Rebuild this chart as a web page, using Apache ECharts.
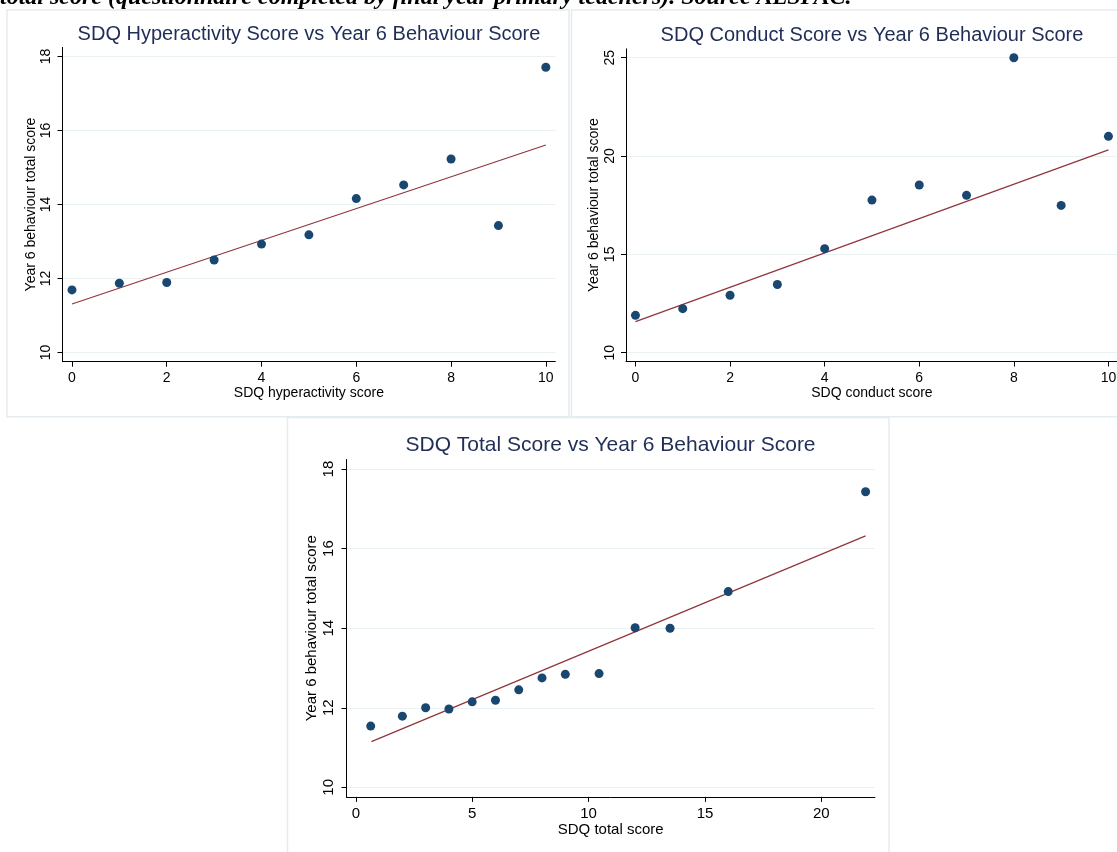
<!DOCTYPE html>
<html>
<head>
<meta charset="utf-8">
<script src="https://cdn.jsdelivr.net/npm/echarts@6/dist/echarts.min.js"></script>
<style>
  html, body { margin: 0; padding: 0; background: #ffffff; }
  #chart { width: 1117px; height: 852px; }
</style>
</head>
<body>
<div id="chart"></div>
<script>
// SDQ hyperactivity score vs mean Year 6 behaviour score
const hyperScore = [0, 1, 2, 3, 4, 5, 6, 7, 8, 9, 10];
const hyperBehaviour = [11.69, 11.87, 11.89, 12.50, 12.93, 13.18, 14.16, 14.53, 15.23, 13.43, 17.71];
const hyperFitX = [0, 10];
const hyperFitY = [11.31, 15.61];

// SDQ conduct score vs mean Year 6 behaviour score
const conductScore = [0, 1, 2, 3, 4, 5, 6, 7, 8, 9, 10];
const conductBehaviour = [11.90, 12.24, 12.92, 13.47, 15.29, 17.76, 18.53, 18.00, 25.00, 17.49, 21.00];
const conductFitX = [0, 10];
const conductFitY = [11.58, 20.31];

// SDQ total score vs mean Year 6 behaviour score
const totalScore = [0.64, 2, 3, 4, 5, 6, 7, 8, 9, 10.45, 12, 13.5, 16, 21.9];
const totalBehaviour = [11.54, 11.79, 12.00, 11.97, 12.15, 12.19, 12.45, 12.75, 12.84, 12.86, 14.01, 14.00, 14.92, 17.43];
const totalFitX = [0.67, 21.9];
const totalFitY = [11.15, 16.32];

// Tick labels
const hyperXTicks = [0, 2, 4, 6, 8, 10];
const hyperYTicks = [10, 12, 14, 16, 18];
const conductXTicks = [0, 2, 4, 6, 8, 10];
const conductYTicks = [10, 15, 20, 25];
const totalXTicks = [0, 5, 10, 15, 20];
const totalYTicks = [10, 12, 14, 16, 18];

// Titles and axis names
const panelTitles = [
  'SDQ Hyperactivity Score vs Year 6 Behaviour Score',
  'SDQ Conduct Score vs Year 6 Behaviour Score',
  'SDQ Total Score vs Year 6 Behaviour Score'
];
const xNames = ['SDQ hyperactivity score', 'SDQ conduct score', 'SDQ total score'];
const yName = 'Year 6 behaviour total score';
const caption = 'total score (questionnaire completed by final year primary teachers). Source ALSPAC.';

const FONT = '"Liberation Sans", Arial, Helvetica, sans-serif';
const MARKER = '#1a476f';
const FIT = '#90353b';
const GRIDLINE = '#eaf1f3';
const BORDER = '#e4ecef';
const TITLE = '#1f2d57';

const zip = (xs, ys) => xs.map((x, i) => [x, ys[i]]);

// Layout of each panel: plot region and axis ranges
const panels = [
  { grid: { left: 62.5, top: 47.3, width: 492.8, height: 314.4 },
    x: [-0.2, 10.2], y: [9.75, 18.25], xTicks: hyperXTicks, yTicks: hyperYTicks,
    font: 14, labelMargin: 9.5, yLabelMargin: 9, xNameGap: 23.5, yNameGap: 24.5 },
  { grid: { left: 626, top: 48.85, width: 491.9, height: 312.7 },
    x: [-0.2, 10.2], y: [9.55, 25.45], xTicks: conductXTicks, yTicks: conductYTicks,
    font: 14, labelMargin: 9.5, yLabelMargin: 9, xNameGap: 23.5, yNameGap: 24.5 },
  { grid: { left: 346.5, top: 459.5, width: 528.4, height: 337.4 },
    x: [-0.4, 22.3], y: [9.76, 18.24], xTicks: totalXTicks, yTicks: totalYTicks,
    font: 15, labelMargin: 9.8, yLabelMargin: 10.4, xNameGap: 25.8, yNameGap: 26.8 }
];

const grids = panels.map(p => Object.assign({ containLabel: false, outerBoundsMode: 'none' }, p.grid));

const axisLineStyle = { show: true, onZero: false, lineStyle: { color: '#000000', width: 1 } };
const axisTickStyle = (vals) => ({ show: true, inside: false, length: 5, customValues: vals,
  lineStyle: { color: '#000000', width: 1 } });

const xAxes = panels.map((p, i) => ({
  type: 'value', gridIndex: i, min: p.x[0], max: p.x[1],
  name: xNames[i], nameLocation: 'middle', nameGap: p.xNameGap,
  nameTextStyle: { fontFamily: FONT, fontSize: p.font, color: '#000000' },
  axisLine: axisLineStyle,
  axisTick: axisTickStyle(p.xTicks),
  axisLabel: { customValues: p.xTicks, margin: p.labelMargin, fontFamily: FONT,
    fontSize: p.font, color: '#000000' },
  splitLine: { show: false }
}));

const yAxes = panels.map((p, i) => ({
  type: 'value', gridIndex: i, min: p.y[0], max: p.y[1],
  name: yName, nameLocation: 'middle', nameGap: p.yNameGap, nameRotate: 90,
  nameTextStyle: { fontFamily: FONT, fontSize: p.font, color: '#000000' },
  axisLine: axisLineStyle,
  axisTick: axisTickStyle(p.yTicks),
  axisLabel: { customValues: p.yTicks, rotate: 90, margin: p.yLabelMargin, fontFamily: FONT,
    fontSize: p.font, color: '#000000' },
  splitLine: { show: true, lineStyle: { color: GRIDLINE, width: 1.2 } }
}));

const scatterSeries = (i, xs, ys) => ({
  type: 'scatter', xAxisIndex: i, yAxisIndex: i, data: zip(xs, ys),
  symbol: 'circle', symbolSize: 9, itemStyle: { color: MARKER, opacity: 1 },
  emphasis: { disabled: true }, z: 3
});
const fitSeries = (i, xs, ys) => ({
  type: 'line', xAxisIndex: i, yAxisIndex: i, data: zip(xs, ys),
  showSymbol: false, symbol: 'none', lineStyle: { color: FIT, width: 1.2 },
  emphasis: { disabled: true }, z: 2
});

const series = [
  fitSeries(0, hyperFitX, hyperFitY), scatterSeries(0, hyperScore, hyperBehaviour),
  fitSeries(1, conductFitX, conductFitY), scatterSeries(1, conductScore, conductBehaviour),
  fitSeries(2, totalFitX, totalFitY), scatterSeries(2, totalScore, totalBehaviour)
];

// Panel frames, panel titles and the clipped caption line above
const frames = [
  { x: 7, y: 10, width: 562, height: 406.7 },
  { x: 571.5, y: 10, width: 560, height: 406.7 },
  { x: 287.5, y: 417.5, width: 601.5, height: 460 }
].map(s => ({ type: 'rect', shape: s, silent: true, z: -10,
  style: { fill: '#ffffff', stroke: BORDER, lineWidth: 1.5 } }));

const titlePos = [
  { x: 309, y: 34, size: 20 },
  { x: 872, y: 35, size: 20 },
  { x: 610.5, y: 445, size: 21 }
];
const titles = titlePos.map((t, i) => ({
  type: 'text', x: t.x, y: t.y, silent: true, z: 10,
  style: { text: panelTitles[i], fill: TITLE, align: 'center', verticalAlign: 'middle',
    font: t.size + 'px ' + FONT }
}));

const captionText = {
  type: 'text', x: 0, y: -2.4, silent: true, z: 10,
  style: { text: caption, fill: '#000000', align: 'left', verticalAlign: 'middle',
    font: 'italic bold 24px "Liberation Serif", "Times New Roman", serif' }
};

const chart = echarts.init(document.getElementById('chart'), null, { renderer: 'canvas' });
chart.setOption({
  backgroundColor: '#ffffff',
  animation: false,
  grid: grids,
  xAxis: xAxes,
  yAxis: yAxes,
  series: series,
  graphic: { elements: frames.concat(titles, [captionText]) }
});
</script>
</body>
</html>
